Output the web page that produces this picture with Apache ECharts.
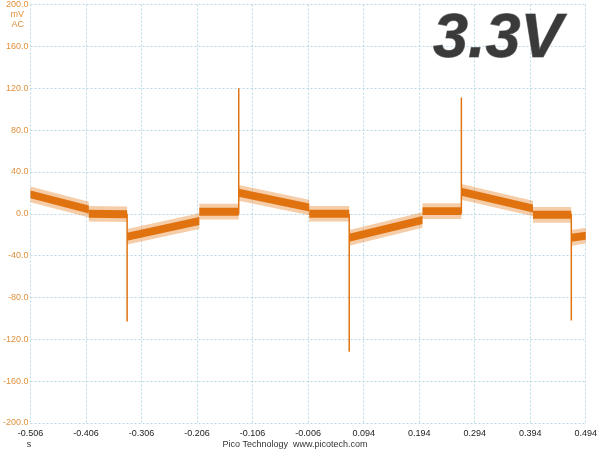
<!DOCTYPE html>
<html>
<head>
<meta charset="utf-8">
<script src="https://cdn.jsdelivr.net/npm/echarts@6/dist/echarts.min.js"></script>
<style>
html, body { margin: 0; padding: 0; background: #fff; }
#Chart { width: 600px; height: 450px; }
</style>
</head>
<body>
<div id="Chart"></div>
<script>
// x axis tick labels (s), first tick is the left edge of the trace
var xTickLabels = ['-0.506', '-0.406', '-0.306', '-0.206', '-0.106', '-0.006', '0.094', '0.194', '0.294', '0.394', '0.494'];
var xStart = -0.506;
// trace: straight pieces between breakpoints (s / mV)
var segStart = [-0.506, -0.401, -0.332, -0.202, -0.131, -0.004, 0.068, 0.200, 0.270, 0.399, 0.468];
var segEnd = [-0.401, -0.332, -0.202, -0.131, -0.004, 0.068, 0.200, 0.270, 0.399, 0.468, 0.494];
var levelStart = [18.5, 0, -22, 2, 20, 0, -23, 2.5, 21, -1, -23];
var levelEnd = [4, -0.5, -7, 2, 6, 0, -6, 2.5, 5, -1, -21];
// switching spikes
var spikeTime = [-0.332, -0.131, 0.068, 0.270, 0.468];
var spikePeak = [-103, 120, -132, 111, -102];
// noise amplitude on the trace (mV, half width)
var noiseCore = 3.8;
var noiseOuter = 7.5;

var lineColor = '#e07310';
var lineColor1 = 'rgba(232,130,40,0.4)';
var labelFont = '"Liberation Sans", Arial, sans-serif';

var segData = [];
for (var i = 0; i < segStart.length; i++) {
    segData.push([segStart[i] - xStart, levelStart[i], segEnd[i] - xStart, levelEnd[i]]);
}
var spikeData = [];
for (var j = 0; j < spikeTime.length; j++) {
    spikeData.push([spikeTime[j] - xStart, 0]);
    spikeData.push([spikeTime[j] - xStart, spikePeak[j]]);
    spikeData.push([spikeTime[j] - xStart, '-']);
}

function bandRender(hw, color) {
    return function (params, api) {
        var a = api.coord([api.value(0), api.value(1) + hw]);
        var b = api.coord([api.value(2), api.value(3) + hw]);
        var c = api.coord([api.value(2), api.value(3) - hw]);
        var d = api.coord([api.value(0), api.value(1) - hw]);
        return {
            type: 'polygon',
            shape: { points: [a, b, c, d] },
            style: { fill: color }
        };
    };
}

var myChart = echarts.init(document.getElementById('Chart'));
var gridLine = { color: '#b9d9e8', type: [2, 2], width: 1 };
var option = {
    backgroundColor: '#fff',
    animation: false,
    grid: { left: 27, right: 13, top: 4, bottom: 27, containLabel: false },
    xAxis: {
        type: 'value',
        min: 0,
        max: 1,
        interval: 0.1,
        axisLine: { show: false },
        axisTick: { show: false },
        splitLine: { show: true, lineStyle: gridLine },
        axisLabel: {
            color: '#222',
            fontSize: 9,
            fontFamily: labelFont,
            margin: 6,
            showMinLabel: true,
            showMaxLabel: true,
            formatter: function (v) { return xTickLabels[Math.round(v * 10)]; }
        }
    },
    yAxis: {
        type: 'value',
        min: -200,
        max: 200,
        interval: 40,
        axisLine: { show: false },
        axisTick: { show: false },
        splitLine: { show: true, lineStyle: gridLine },
        axisLabel: {
            color: '#e0913e',
            fontSize: 9,
            fontFamily: labelFont,
            margin: 2,
            formatter: function (v) { return v.toFixed(1); }
        }
    },
    graphic: [
        { type: 'text', style: { text: 'mV', x: 24, y: 15, align: 'right', verticalAlign: 'middle', fill: '#e0913e', font: '9px ' + labelFont } },
        { type: 'text', style: { text: 'AC', x: 24, y: 25, align: 'right', verticalAlign: 'middle', fill: '#e0913e', font: '9px ' + labelFont } },
        { type: 'text', style: { text: 's', x: 29, y: 445, align: 'center', verticalAlign: 'middle', fill: '#333', font: '9px ' + labelFont } },
        { type: 'text', style: { text: 'Pico Technology  www.picotech.com', x: 295, y: 445, align: 'center', verticalAlign: 'middle', fill: '#333', font: '9px ' + labelFont } },
        {
            type: 'text',
            z: 10,
            style: {
                text: '3.3V',
                x: 433,
                y: 40,
                verticalAlign: 'middle',
                font: 'italic bold 63px ' + labelFont,
                fill: '#3a3a3a',
                stroke: '#8c8c8c',
                lineWidth: 1,
                shadowColor: 'rgba(0,0,0,0.3)',
                shadowBlur: 3,
                shadowOffsetX: 3,
                shadowOffsetY: 3
            }
        }
    ],
    series: [
        {
            name: 'noise',
            type: 'custom',
            renderItem: bandRender(noiseOuter, lineColor1),
            encode: { x: [0, 2], y: [1, 3] },
            data: segData,
            clip: true,
            silent: true
        },
        {
            name: 'trace',
            type: 'custom',
            renderItem: bandRender(noiseCore, lineColor),
            encode: { x: [0, 2], y: [1, 3] },
            data: segData,
            clip: true,
            silent: true
        },
        {
            name: 'spikes',
            type: 'line',
            data: spikeData,
            symbol: 'none',
            connectNulls: false,
            lineStyle: { color: lineColor, width: 1.5 },
            silent: true
        }
    ]
};
myChart.setOption(option);
window.addEventListener('resize', function () {
    myChart.resize();
});
</script>
</body>
</html>
